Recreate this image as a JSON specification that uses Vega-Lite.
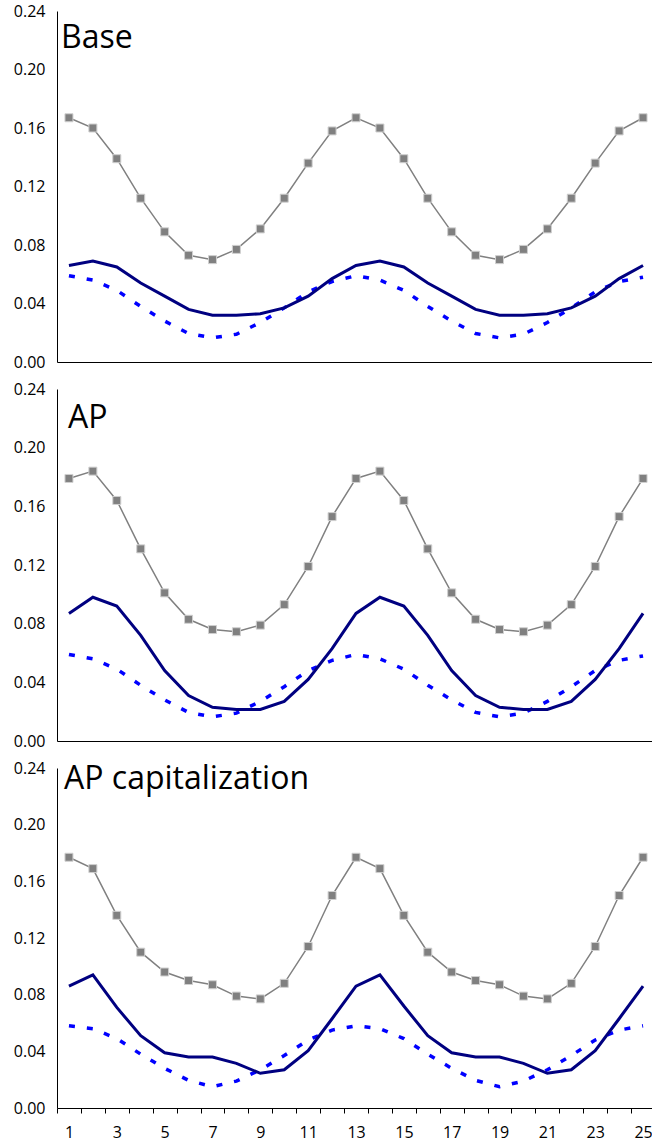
{
  "$schema": "https://vega.github.io/schema/vega-lite/v6.json",
  "padding": {"left": 13, "top": 3, "right": 0, "bottom": 0},
  "background": "white",
  "config": {
    "font": "Open Sans",
    "view": {"stroke": null},
    "axis": {"labelFont": "Open Sans", "labelFontSize": 16, "labelColor": "black", "domainColor": "black", "domainWidth": 1, "grid": false, "title": null},
    "title": {"font": "Open Sans", "fontSize": 32, "fontWeight": "normal", "color": "black", "anchor": "start", "frame": "group", "orient": "top", "offset": 0, "baseline": "alphabetic"}
  },
  "data": {"values": [
    {"p": "Base", "x": 1, "g": 0.167, "n": 0.066, "b": 0.059},
    {"p": "Base", "x": 2, "g": 0.160, "n": 0.069, "b": 0.056},
    {"p": "Base", "x": 3, "g": 0.139, "n": 0.065, "b": 0.049},
    {"p": "Base", "x": 4, "g": 0.112, "n": 0.054, "b": 0.038},
    {"p": "Base", "x": 5, "g": 0.089, "n": 0.045, "b": 0.028},
    {"p": "Base", "x": 6, "g": 0.073, "n": 0.036, "b": 0.0195},
    {"p": "Base", "x": 7, "g": 0.070, "n": 0.032, "b": 0.0165},
    {"p": "Base", "x": 8, "g": 0.077, "n": 0.032, "b": 0.019},
    {"p": "Base", "x": 9, "g": 0.091, "n": 0.033, "b": 0.027},
    {"p": "Base", "x": 10, "g": 0.112, "n": 0.037, "b": 0.037},
    {"p": "Base", "x": 11, "g": 0.136, "n": 0.045, "b": 0.048},
    {"p": "Base", "x": 12, "g": 0.158, "n": 0.057, "b": 0.055},
    {"p": "Base", "x": 13, "g": 0.167, "n": 0.066, "b": 0.059},
    {"p": "Base", "x": 14, "g": 0.160, "n": 0.069, "b": 0.056},
    {"p": "Base", "x": 15, "g": 0.139, "n": 0.065, "b": 0.049},
    {"p": "Base", "x": 16, "g": 0.112, "n": 0.054, "b": 0.038},
    {"p": "Base", "x": 17, "g": 0.089, "n": 0.045, "b": 0.028},
    {"p": "Base", "x": 18, "g": 0.073, "n": 0.036, "b": 0.0195},
    {"p": "Base", "x": 19, "g": 0.070, "n": 0.032, "b": 0.0165},
    {"p": "Base", "x": 20, "g": 0.077, "n": 0.032, "b": 0.019},
    {"p": "Base", "x": 21, "g": 0.091, "n": 0.033, "b": 0.027},
    {"p": "Base", "x": 22, "g": 0.112, "n": 0.037, "b": 0.037},
    {"p": "Base", "x": 23, "g": 0.136, "n": 0.045, "b": 0.048},
    {"p": "Base", "x": 24, "g": 0.158, "n": 0.057, "b": 0.055},
    {"p": "Base", "x": 25, "g": 0.167, "n": 0.066, "b": 0.058},
    {"p": "AP", "x": 1, "g": 0.179, "n": 0.087, "b": 0.059},
    {"p": "AP", "x": 2, "g": 0.184, "n": 0.098, "b": 0.056},
    {"p": "AP", "x": 3, "g": 0.164, "n": 0.092, "b": 0.049},
    {"p": "AP", "x": 4, "g": 0.131, "n": 0.072, "b": 0.038},
    {"p": "AP", "x": 5, "g": 0.101, "n": 0.048, "b": 0.028},
    {"p": "AP", "x": 6, "g": 0.083, "n": 0.031, "b": 0.0195},
    {"p": "AP", "x": 7, "g": 0.076, "n": 0.023, "b": 0.0165},
    {"p": "AP", "x": 8, "g": 0.0745, "n": 0.0215, "b": 0.019},
    {"p": "AP", "x": 9, "g": 0.079, "n": 0.0215, "b": 0.027},
    {"p": "AP", "x": 10, "g": 0.093, "n": 0.027, "b": 0.037},
    {"p": "AP", "x": 11, "g": 0.119, "n": 0.042, "b": 0.048},
    {"p": "AP", "x": 12, "g": 0.153, "n": 0.063, "b": 0.055},
    {"p": "AP", "x": 13, "g": 0.179, "n": 0.087, "b": 0.059},
    {"p": "AP", "x": 14, "g": 0.184, "n": 0.098, "b": 0.056},
    {"p": "AP", "x": 15, "g": 0.164, "n": 0.092, "b": 0.049},
    {"p": "AP", "x": 16, "g": 0.131, "n": 0.072, "b": 0.038},
    {"p": "AP", "x": 17, "g": 0.101, "n": 0.048, "b": 0.028},
    {"p": "AP", "x": 18, "g": 0.083, "n": 0.031, "b": 0.0195},
    {"p": "AP", "x": 19, "g": 0.076, "n": 0.023, "b": 0.0165},
    {"p": "AP", "x": 20, "g": 0.0745, "n": 0.0215, "b": 0.019},
    {"p": "AP", "x": 21, "g": 0.079, "n": 0.0215, "b": 0.027},
    {"p": "AP", "x": 22, "g": 0.093, "n": 0.027, "b": 0.037},
    {"p": "AP", "x": 23, "g": 0.119, "n": 0.042, "b": 0.048},
    {"p": "AP", "x": 24, "g": 0.153, "n": 0.063, "b": 0.055},
    {"p": "AP", "x": 25, "g": 0.179, "n": 0.087, "b": 0.058},
    {"p": "APC", "x": 1, "g": 0.177, "n": 0.086, "b": 0.058},
    {"p": "APC", "x": 2, "g": 0.169, "n": 0.094, "b": 0.056},
    {"p": "APC", "x": 3, "g": 0.136, "n": 0.071, "b": 0.049},
    {"p": "APC", "x": 4, "g": 0.110, "n": 0.051, "b": 0.038},
    {"p": "APC", "x": 5, "g": 0.096, "n": 0.039, "b": 0.028},
    {"p": "APC", "x": 6, "g": 0.090, "n": 0.036, "b": 0.0195},
    {"p": "APC", "x": 7, "g": 0.087, "n": 0.036, "b": 0.015},
    {"p": "APC", "x": 8, "g": 0.079, "n": 0.0315, "b": 0.019},
    {"p": "APC", "x": 9, "g": 0.077, "n": 0.0245, "b": 0.027},
    {"p": "APC", "x": 10, "g": 0.088, "n": 0.027, "b": 0.037},
    {"p": "APC", "x": 11, "g": 0.114, "n": 0.0405, "b": 0.048},
    {"p": "APC", "x": 12, "g": 0.150, "n": 0.063, "b": 0.055},
    {"p": "APC", "x": 13, "g": 0.177, "n": 0.086, "b": 0.058},
    {"p": "APC", "x": 14, "g": 0.169, "n": 0.094, "b": 0.056},
    {"p": "APC", "x": 15, "g": 0.136, "n": 0.072, "b": 0.049},
    {"p": "APC", "x": 16, "g": 0.110, "n": 0.051, "b": 0.038},
    {"p": "APC", "x": 17, "g": 0.096, "n": 0.039, "b": 0.028},
    {"p": "APC", "x": 18, "g": 0.090, "n": 0.036, "b": 0.0195},
    {"p": "APC", "x": 19, "g": 0.087, "n": 0.036, "b": 0.015},
    {"p": "APC", "x": 20, "g": 0.079, "n": 0.0315, "b": 0.019},
    {"p": "APC", "x": 21, "g": 0.077, "n": 0.0245, "b": 0.027},
    {"p": "APC", "x": 22, "g": 0.088, "n": 0.027, "b": 0.037},
    {"p": "APC", "x": 23, "g": 0.114, "n": 0.0405, "b": 0.048},
    {"p": "APC", "x": 24, "g": 0.150, "n": 0.063, "b": 0.055},
    {"p": "APC", "x": 25, "g": 0.177, "n": 0.086, "b": 0.058}
  ]},
  "spacing": 27,
  "bounds": "flush",
  "vconcat": [
    {
      "title": {"text": "Base", "dx": 4, "dy": 56},
      "width": 598, "height": 351,
      "transform": [{"filter": "datum.p == 'Base'"}],
      "encoding": {"x": {"field": "x", "type": "quantitative", "scale": {"domain": [0.5, 25.5], "nice": false, "zero": false}, "axis": {"labels": false, "ticks": false, "domain": true}}},
      "layer": [
        {"mark": {"type": "line", "color": "#0000ff", "strokeWidth": 3.5, "strokeDash": [6, 12]}, "encoding": {"y": {"field": "b", "type": "quantitative", "scale": {"domain": [0, 0.24], "nice": false}, "axis": {"values": [0, 0.04, 0.08, 0.12, 0.16, 0.2, 0.24], "format": ".2f", "ticks": false, "labelPadding": 12}}}},
        {"mark": {"type": "line", "color": "#000080", "strokeWidth": 3}, "encoding": {"y": {"field": "n", "type": "quantitative", "scale": {"domain": [0, 0.24], "nice": false}, "axis": {"values": [0, 0.04, 0.08, 0.12, 0.16, 0.2, 0.24], "format": ".2f", "ticks": false, "labelPadding": 12}}}},
        {"mark": {"type": "line", "color": "#808080", "strokeWidth": 1.5, "point": {"shape": "square", "size": 64, "filled": true, "fill": "#808080", "stroke": "#d0d0d0", "strokeWidth": 1}}, "encoding": {"y": {"field": "g", "type": "quantitative", "scale": {"domain": [0, 0.24], "nice": false}, "axis": {"values": [0, 0.04, 0.08, 0.12, 0.16, 0.2, 0.24], "format": ".2f", "ticks": false, "labelPadding": 12}}}}
      ]
    },
    {
      "title": {"text": "AP", "dx": 11, "dy": 58},
      "width": 598, "height": 352,
      "transform": [{"filter": "datum.p == 'AP'"}],
      "encoding": {"x": {"field": "x", "type": "quantitative", "scale": {"domain": [0.5, 25.5], "nice": false, "zero": false}, "axis": {"labels": false, "ticks": false, "domain": true}}},
      "layer": [
        {"mark": {"type": "line", "color": "#0000ff", "strokeWidth": 3.5, "strokeDash": [6, 12]}, "encoding": {"y": {"field": "b", "type": "quantitative", "scale": {"domain": [0, 0.24], "nice": false}, "axis": {"values": [0, 0.04, 0.08, 0.12, 0.16, 0.2, 0.24], "format": ".2f", "ticks": false, "labelPadding": 12}}}},
        {"mark": {"type": "line", "color": "#000080", "strokeWidth": 3}, "encoding": {"y": {"field": "n", "type": "quantitative", "scale": {"domain": [0, 0.24], "nice": false}, "axis": {"values": [0, 0.04, 0.08, 0.12, 0.16, 0.2, 0.24], "format": ".2f", "ticks": false, "labelPadding": 12}}}},
        {"mark": {"type": "line", "color": "#808080", "strokeWidth": 1.5, "point": {"shape": "square", "size": 64, "filled": true, "fill": "#808080", "stroke": "#d0d0d0", "strokeWidth": 1}}, "encoding": {"y": {"field": "g", "type": "quantitative", "scale": {"domain": [0, 0.24], "nice": false}, "axis": {"values": [0, 0.04, 0.08, 0.12, 0.16, 0.2, 0.24], "format": ".2f", "ticks": false, "labelPadding": 12}}}}
      ]
    },
    {
      "title": {"text": "AP capitalization", "dx": 7, "dy": 40},
      "width": 598, "height": 340,
      "transform": [{"filter": "datum.p == 'APC'"}],
      "encoding": {"x": {"field": "x", "type": "quantitative", "scale": {"domain": [0.5, 25.5], "nice": false, "zero": false}, "axis": {"values": [0.5, 1.5, 2.5, 3.5, 4.5, 5.5, 6.5, 7.5, 8.5, 9.5, 10.5, 11.5, 12.5, 13.5, 14.5, 15.5, 16.5, 17.5, 18.5, 19.5, 20.5, 21.5, 22.5, 23.5, 24.5, 25.5], "labelExpr": "(datum.value + 0.5) % 2 == 1 && datum.value < 25 ? '' + (datum.value + 0.5) : ''", "labelOffset": 12, "labelFlush": false, "labelOverlap": false, "labelBound": false, "ticks": true, "tickSize": 5, "tickColor": "black", "labelPadding": 11}}},
      "layer": [
        {"mark": {"type": "line", "color": "#0000ff", "strokeWidth": 3.5, "strokeDash": [6, 12]}, "encoding": {"y": {"field": "b", "type": "quantitative", "scale": {"domain": [0, 0.24], "nice": false}, "axis": {"values": [0, 0.04, 0.08, 0.12, 0.16, 0.2, 0.24], "format": ".2f", "ticks": false, "labelPadding": 12}}}},
        {"mark": {"type": "line", "color": "#000080", "strokeWidth": 3}, "encoding": {"y": {"field": "n", "type": "quantitative", "scale": {"domain": [0, 0.24], "nice": false}, "axis": {"values": [0, 0.04, 0.08, 0.12, 0.16, 0.2, 0.24], "format": ".2f", "ticks": false, "labelPadding": 12}}}},
        {"mark": {"type": "line", "color": "#808080", "strokeWidth": 1.5, "point": {"shape": "square", "size": 64, "filled": true, "fill": "#808080", "stroke": "#d0d0d0", "strokeWidth": 1}}, "encoding": {"y": {"field": "g", "type": "quantitative", "scale": {"domain": [0, 0.24], "nice": false}, "axis": {"values": [0, 0.04, 0.08, 0.12, 0.16, 0.2, 0.24], "format": ".2f", "ticks": false, "labelPadding": 12}}}}
      ]
    }
  ]
}
